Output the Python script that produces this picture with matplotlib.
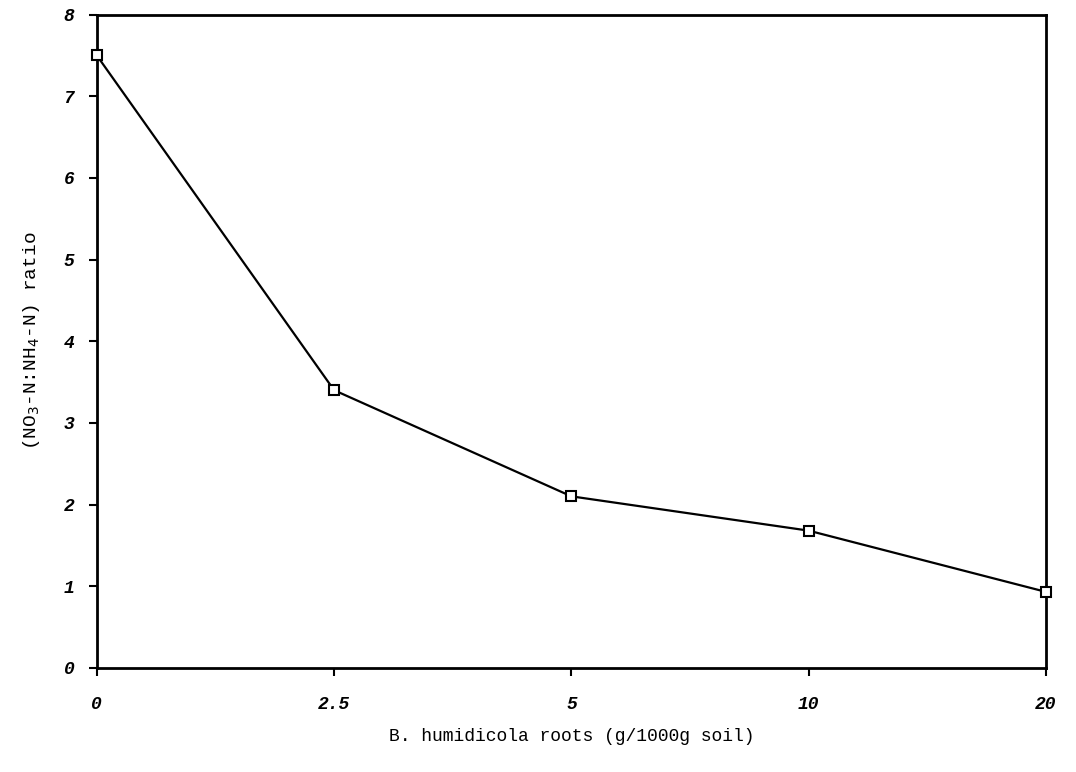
import matplotlib.pyplot as plt

# root amendment levels (g/1000g soil) and the nitrate:ammonium ratio
root_levels = ["0", "2.5", "5", "10", "20"]
ratio = [7.5, 3.4, 2.1, 1.68, 0.93]
y_ticks = [0, 1, 2, 3, 4, 5, 6, 7, 8]

font = "Liberation Mono"

fig = plt.figure(figsize=(10.76, 7.72), dpi=100)
ax = fig.add_axes([0.090, 0.135, 0.882, 0.846])

pos = list(range(len(root_levels)))
ax.plot(pos, ratio, color="black", linewidth=1.6,
        marker="s", markersize=7, markerfacecolor="white",
        markeredgecolor="black", markeredgewidth=1.5, clip_on=False, zorder=3)

ax.set_xlim(0, len(root_levels) - 1)
ax.set_ylim(0, 8)
ax.set_xticks(pos)
ax.set_xticklabels(root_levels, fontfamily=font, fontweight="bold",
                   fontstyle="italic", fontsize=13)
ax.set_yticks(y_ticks)
ax.set_yticklabels([str(v) for v in y_ticks], fontfamily=font,
                   fontweight="bold", fontstyle="italic", fontsize=13)
ax.tick_params(axis="both", direction="out", length=6, width=1.5, pad=10)
ax.tick_params(axis="x", pad=14)

for side in ax.spines.values():
    side.set_linewidth(2.0)

ax.set_xlabel("B. humidicola roots (g/1000g soil)", fontfamily=font,
              fontsize=13, labelpad=11)
ax.set_ylabel(r"(NO$_3$-N:NH$_4$-N) ratio", fontfamily=font,
              fontsize=14, labelpad=16)

plt.savefig("out.png", dpi=100)
